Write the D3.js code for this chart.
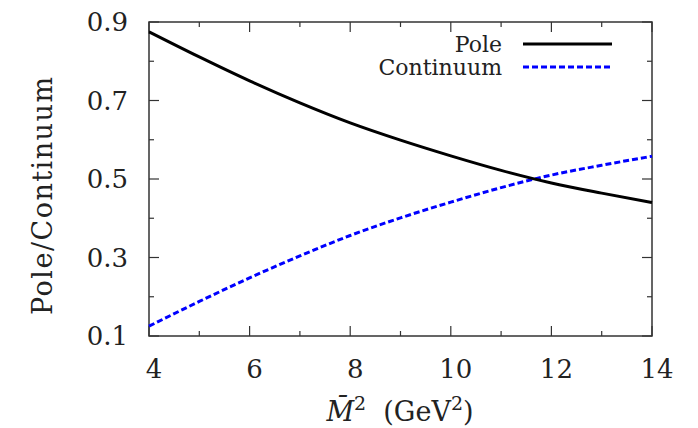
<html>
<head>
    <script src="https://d3js.org/d3.v7.min.js"></script>
    <style type="text/css">
        body { margin: 0; background: white; }
        text { font-family: "DejaVu Serif"; fill: #222; }
        line.tick { stroke: #333; stroke-width: 1.2; }
        rect.frame { fill: none; stroke: #333; stroke-width: 1.5; }
    </style>
</head>
<body>
    <svg id="chart"></svg>

    <script>
        var Width = 698, Height = 428;
        var Left = 149, Right = 652, Top = 22, Bottom = 336;

        // M^2 values (GeV^2)
        var Msq = [4, 5, 6, 7, 8, 9, 10, 11, 12, 13, 14];
        var Pole = [0.875, 0.811, 0.750, 0.694, 0.643, 0.599, 0.559, 0.522, 0.490, 0.464, 0.440];
        var Continuum = [0.125, 0.188, 0.248, 0.304, 0.356, 0.401, 0.441, 0.478, 0.510, 0.535, 0.558];

        var XTicks = [4, 6, 8, 10, 12, 14];
        var XMinor = [5, 7, 9, 11, 13];
        var YTicks = [0.1, 0.3, 0.5, 0.7, 0.9];
        var YMinor = [0.2, 0.4, 0.6, 0.8];

        var svg = d3.select("#chart").attr("width", Width).attr("height", Height);

        var x = d3.scaleLinear().domain([4, 14]).range([Left, Right]);
        var y = d3.scaleLinear().domain([0.1, 0.9]).range([Bottom, Top]);

        function xTickLines(vals, len)
        {
            var g = svg.append("g");
            vals.forEach(function(v){
                // bottom and top, pointing inward
                g.append("line").classed("tick", true)
                    .attr("x1", x(v)).attr("x2", x(v))
                    .attr("y1", Bottom).attr("y2", Bottom - len);
                g.append("line").classed("tick", true)
                    .attr("x1", x(v)).attr("x2", x(v))
                    .attr("y1", Top).attr("y2", Top + len);
            });
        }

        function yTickLines(vals, len)
        {
            var g = svg.append("g");
            vals.forEach(function(v){
                g.append("line").classed("tick", true)
                    .attr("x1", Left).attr("x2", Left + len)
                    .attr("y1", y(v)).attr("y2", y(v));
                g.append("line").classed("tick", true)
                    .attr("x1", Right).attr("x2", Right - len)
                    .attr("y1", y(v)).attr("y2", y(v));
            });
        }

        xTickLines(XTicks, 10);
        xTickLines(XMinor, 5);
        yTickLines(YTicks, 10);
        yTickLines(YMinor, 5);

        svg.append("rect").classed("frame", true)
            .attr("x", Left).attr("y", Top)
            .attr("width", Right - Left).attr("height", Bottom - Top);

        // tick labels
        svg.selectAll(".xlab")
            .data(XTicks)
            .enter()
            .append("text").classed("xlab", true)
                .attr("x", function(d){ return x(d) + 5; })
                .attr("y", 378)
                .attr("text-anchor", "middle")
                .attr("font-size", 26)
                .text(function(d){ return d; });

        svg.selectAll(".ylab")
            .data(YTicks)
            .enter()
            .append("text").classed("ylab", true)
                .attr("x", 128)
                .attr("y", function(d){ return y(d); })
                .attr("dy", "0.36em")
                .attr("text-anchor", "end")
                .attr("font-size", 26)
                .text(function(d){ return d3.format(".1f")(d); });

        // axis titles
        var xt = svg.append("text")
            .attr("x", 400).attr("y", 421)
            .attr("text-anchor", "middle")
            .attr("font-size", 27);
        xt.append("tspan").attr("font-style", "italic").text("M\u0304");
        xt.append("tspan").attr("font-size", 19).attr("dy", -11).text("2");
        xt.append("tspan").attr("dy", 11).text("\u00a0\u00a0(GeV");
        xt.append("tspan").attr("font-size", 19).attr("dy", -11).text("2");
        xt.append("tspan").attr("dy", 11).text(")");

        svg.append("text")
            .attr("transform", "translate(52,196) rotate(-90)")
            .attr("text-anchor", "middle")
            .attr("font-size", 27)
            .attr("textLength", 238)
            .attr("lengthAdjust", "spacing")
            .text("Pole/Continuum");

        // curves
        var line = d3.line()
            .x(function(d){ return x(d[0]); })
            .y(function(d){ return y(d[1]); })
            .curve(d3.curveMonotoneX);

        svg.append("path")
            .attr("d", line(d3.zip(Msq, Continuum)))
            .attr("fill", "none")
            .attr("stroke", "#0000ff")
            .attr("stroke-width", 3)
            .attr("stroke-dasharray", "6,3");

        svg.append("path")
            .attr("d", line(d3.zip(Msq, Pole)))
            .attr("fill", "none")
            .attr("stroke", "black")
            .attr("stroke-width", 3);

        // legend
        var Legend = [
            {name: "Pole", color: "black", dash: null, y: 44},
            {name: "Continuum", color: "#0000ff", dash: "6,3", y: 67}
        ];

        var leg = svg.selectAll(".legend")
            .data(Legend)
            .enter()
            .append("g").classed("legend", true);

        leg.append("text")
            .attr("x", 502)
            .attr("y", function(d){ return d.y; })
            .attr("dy", "0.36em")
            .attr("text-anchor", "end")
            .attr("font-size", 22)
            .text(function(d){ return d.name; });

        leg.append("line")
            .attr("x1", 523).attr("x2", 612)
            .attr("y1", function(d){ return d.y; })
            .attr("y2", function(d){ return d.y; })
            .attr("stroke", function(d){ return d.color; })
            .attr("stroke-width", 3)
            .attr("stroke-dasharray", function(d){ return d.dash; });
    </script>
</body>
</html>
